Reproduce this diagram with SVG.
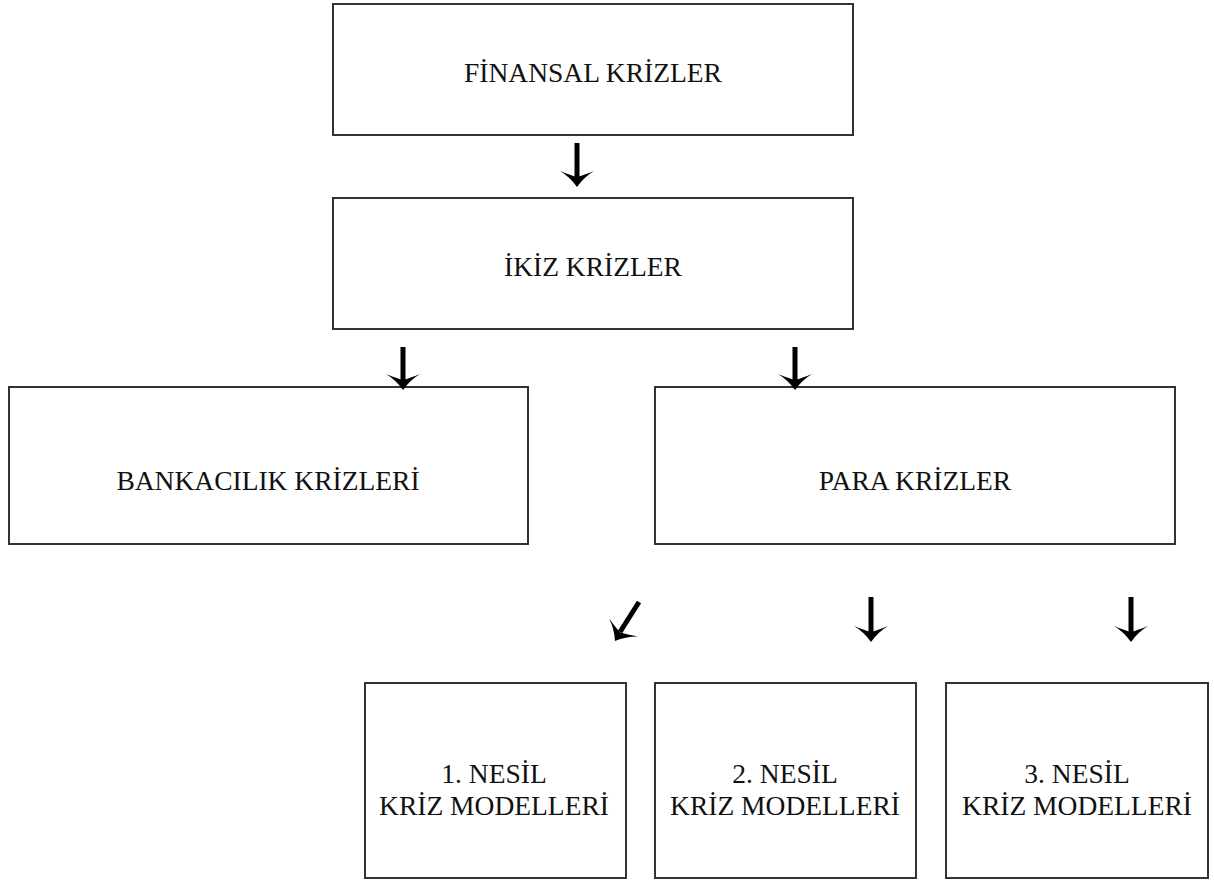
<svg xmlns="http://www.w3.org/2000/svg" width="1214" height="883" viewBox="0 0 1214 883">
<defs>
<style>
.box{fill:#fff;stroke:#333;stroke-width:2}
.t{font-family:"Liberation Serif","Times New Roman",serif;font-size:27.5px;fill:#111;text-anchor:middle}
.sh{stroke:#000;stroke-width:5;fill:none}
.hd{fill:#000;stroke:none}
</style>
<path id="ah" d="M0,0 Q-7,-10 -17,-16 Q-7,-12 0,-10 Q7,-12 17,-16 Q7,-10 0,0 Z"/>
</defs>
<rect width="1214" height="883" fill="#fff"/>
<g id="n1"><rect class="box" x="333" y="4" width="520" height="131"/><text class="t" x="593" y="82">FİNANSAL KRİZLER</text></g>
<g id="n2"><rect class="box" x="333" y="198" width="520" height="131"/><text class="t" x="593" y="276">İKİZ KRİZLER</text></g>
<g id="n3"><rect class="box" x="9" y="387" width="519" height="157"/><text class="t" x="268" y="490">BANKACILIK KRİZLERİ</text></g>
<g id="n4"><rect class="box" x="655" y="387" width="520" height="157"/><text class="t" x="915" y="490">PARA KRİZLER</text></g>
<g id="n5"><rect class="box" x="365" y="683" width="261" height="195"/><text class="t" x="494" y="783">1. NESİL</text><text class="t" x="494" y="815">KRİZ MODELLERİ</text></g>
<g id="n6"><rect class="box" x="655" y="683" width="261" height="195"/><text class="t" x="785" y="783">2. NESİL</text><text class="t" x="785" y="815">KRİZ MODELLERİ</text></g>
<g id="n7"><rect class="box" x="946" y="683" width="262" height="195"/><text class="t" x="1077" y="783">3. NESİL</text><text class="t" x="1077" y="815">KRİZ MODELLERİ</text></g>
<g id="connectors">
<line class="sh" x1="577" y1="143" x2="577" y2="178"/><use href="#ah" class="hd" transform="translate(577,187)"/>
<line class="sh" x1="403" y1="347" x2="403" y2="381"/><use href="#ah" class="hd" transform="translate(403,390)"/>
<line class="sh" x1="795" y1="347" x2="795" y2="381"/><use href="#ah" class="hd" transform="translate(795,390)"/>
<line class="sh" x1="871" y1="597" x2="871" y2="633"/><use href="#ah" class="hd" transform="translate(871,642)"/>
<line class="sh" x1="1131" y1="597" x2="1131" y2="633"/><use href="#ah" class="hd" transform="translate(1131,642)"/>
<line class="sh" x1="639" y1="602" x2="620" y2="632"/><use href="#ah" class="hd" transform="translate(615,641) rotate(32)"/>
</g>
</svg>
